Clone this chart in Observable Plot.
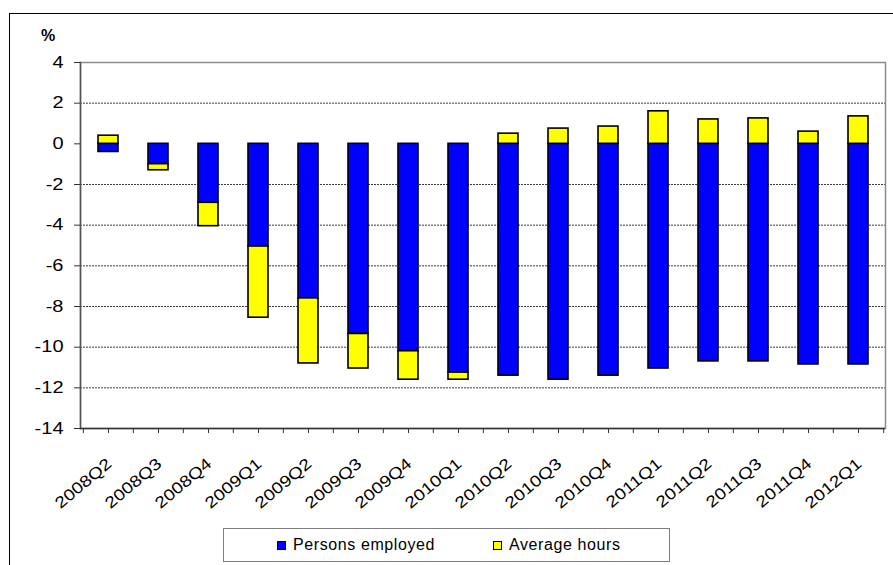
<!DOCTYPE html>
<html>
<head>
<meta charset="utf-8">
<script src="https://cdn.jsdelivr.net/npm/d3@7"></script>
<script src="https://cdn.jsdelivr.net/npm/@observablehq/plot@0.6"></script>
<style>
  html, body { margin: 0; padding: 0; background: #fff; }
  body { font-family: "Liberation Sans", Arial, sans-serif; }
  #wrap { position: relative; width: 893px; height: 565px; overflow: hidden; background: #fff; }
  #frame { position: absolute; left: 9px; top: 13px; width: 920px; height: 600px;
           border-left: 1.5px solid #000; border-top: 1.5px solid #000; box-sizing: border-box; }
  #chart { position: absolute; left: 0; top: 0; }
  #unit { position: absolute; left: 41px; top: 27px; font-weight: bold; font-size: 16px; color: #000; }
  #legend { position: absolute; left: 223px; top: 528px; width: 447px; height: 34px;
            border: 1.5px solid #7f7f7f; box-sizing: border-box; background: #fff; }
  .item { position: absolute; top: 7px; font-size: 16px; letter-spacing: 0.6px; color: #000; white-space: nowrap; line-height: 18px; }
  .sw { position: absolute; width: 7px; height: 7px; border: 1px solid #000; top: 5px; }
  #chart g[aria-label="y-axis tick label"] text { font-size: 16px !important; }
  #chart g[aria-label="x-axis tick label"] text { font-size: 16px !important; }
</style>
</head>
<body>
<div id="wrap">
  <div id="frame"></div>
  <div id="chart"></div>
  <div id="unit">%</div>
  <div id="legend"></div>
</div>
<script>
// ---- data ----
const quarters = ["2008Q2","2008Q3","2008Q4","2009Q1","2009Q2","2009Q3","2009Q4","2010Q1",
                  "2010Q2","2010Q3","2010Q4","2011Q1","2011Q2","2011Q3","2011Q4","2012Q1"];
const personsEmployed = [-0.4, -1.0, -2.9, -5.05, -7.6, -9.35, -10.2, -11.25,
                         -11.4, -11.6, -11.4, -11.05, -10.7, -10.7, -10.85, -10.85];
const averageHours = [0.4, -0.3, -1.15, -3.5, -3.2, -1.7, -1.4, -0.35,
                      0.5, 0.75, 0.85, 1.6, 1.2, 1.25, 0.6, 1.35];
const seriesNames = ["Persons employed", "Average hours"];
const seriesColors = ["#0000ff", "#ffff00"];
const yTicks = [4, 2, 0, -2, -4, -6, -8, -10, -12, -14];
const unitLabel = "%";

// ---- build table ----
const rows = [];
quarters.forEach((q, i) => {
  rows.push({q, s: seriesNames[0], v: personsEmployed[i]});
  rows.push({q, s: seriesNames[1], v: averageHours[i]});
});
const gridValues = yTicks.filter(v => v !== 0 && v !== yTicks[0] && v !== yTicks[yTicks.length - 1]);

const W = 893, H = 565, mL = 80, mR = 8, mT = 62, mB = 137;
const step = (W - mL - mR) / quarters.length;
const inset = 15;

const chart = Plot.plot({
  width: W, height: H,
  marginLeft: mL, marginRight: mR, marginTop: mT, marginBottom: mB,
  x: {domain: quarters, padding: 0, label: null},
  y: {domain: [yTicks[yTicks.length - 1], yTicks[0]], label: null},
  color: {domain: seriesNames, range: seriesColors},
  style: {fontFamily: "'Liberation Sans', Arial, sans-serif", fontSize: "15px", color: "#000", background: "transparent", overflow: "visible"},
  marks: [
    Plot.ruleY(gridValues, {stroke: "#3a3a3a", strokeWidth: 1, strokeDasharray: "2,1"}),
    Plot.frame({stroke: "#8c8c8c", strokeWidth: 1.5}),
    Plot.barY(rows, {x: "q", y: "v", fill: "s", stroke: "#000", strokeWidth: 1.6, insetLeft: inset, insetRight: inset}),
    Plot.frame({anchor: "left", stroke: "#555", strokeWidth: 1.5}),
    Plot.ruleY([yTicks[yTicks.length - 1]], {stroke: "#333", strokeWidth: 1.5}),
    Plot.axisY({ticks: yTicks, tickFormat: d => String(d), tickSize: 6, tickPadding: 11, fontSize: 16, stroke: "#333", label: null}),
    Plot.axisX({tickSize: 5, tickFormat: () => "", stroke: "#333", label: null}),
    Plot.axisX({tickSize: 5, tickFormat: () => "", stroke: "#333", dx: -step / 2, label: null}),
    Plot.axisX([quarters[quarters.length - 1]], {tickSize: 5, tickFormat: () => "", stroke: "#333", dx: step / 2, label: null}),
    Plot.axisX({tickSize: 0, tickPadding: 0, tickRotate: -40, fontSize: 16, dx: 1, dy: 33, label: null})
  ]
});
document.getElementById("chart").appendChild(chart);
document.getElementById("unit").textContent = unitLabel;

// widen axis label glyphs horizontally, as in the reference
function stretch(sel, k) {
  d3.select(chart).selectAll(sel).each(function () {
    const len = this.getComputedTextLength();
    if (len > 0) {
      this.setAttribute("textLength", (len * k).toFixed(1));
      this.setAttribute("lengthAdjust", "spacingAndGlyphs");
    }
  });
}
stretch('g[aria-label="y-axis tick label"] text', 1.25);
stretch('g[aria-label="x-axis tick label"] text', 1.2);

// ---- legend ----
const legend = document.getElementById("legend");
const legendPos = [{sw: 53, tx: 69}, {sw: 269, tx: 285}];
seriesNames.forEach((name, i) => {
  const sw = document.createElement("div");
  sw.className = "sw";
  sw.style.left = legendPos[i].sw + "px";
  sw.style.top = "12px";
  sw.style.background = seriesColors[i];
  legend.appendChild(sw);
  const t = document.createElement("div");
  t.className = "item";
  t.style.left = legendPos[i].tx + "px";
  t.textContent = name;
  legend.appendChild(t);
});
</script>
</body>
</html>
